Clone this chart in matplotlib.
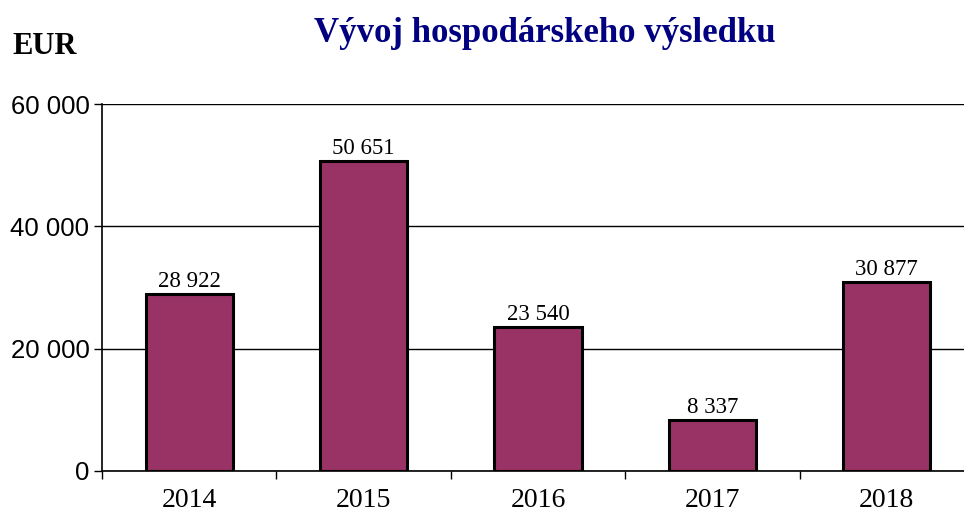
import matplotlib.pyplot as plt
import numpy as np

years = ["2014", "2015", "2016", "2017", "2018"]
values = [28922, 50651, 23540, 8337, 30877]
labels = ["28 922", "50 651", "23 540", "8 337", "30 877"]
yticks = [0, 20000, 40000, 60000]
ytick_labels = ["0", "20 000", "40 000", "60 000"]

fig = plt.figure(figsize=(9.64, 5.14), dpi=100)
# axes run past the right edge like in the original screenshot
ax = fig.add_axes([102 / 964, 43 / 514, 872 / 964, 367 / 514])

x = np.arange(len(years))
ax.bar(x, values, width=0.5, color="#993366", edgecolor="black", linewidth=2.2, zorder=3)

for xi, v, lab in zip(x, values, labels):
    ax.text(xi, v + 1150, lab, ha="center", va="baseline",
            family="Liberation Serif", fontsize=16.5)

ax.set_xlim(-0.5, len(years) - 0.5)
ax.set_ylim(0, 60000)
ax.set_yticks(yticks)
ax.set_yticklabels(ytick_labels, family="Liberation Sans", fontsize=18.5)
ax.set_xticks(x)
ax.set_xticklabels(years, family="Liberation Serif", fontsize=20)
ax.set_xticks(np.arange(-0.5, len(years)), minor=True)
ax.tick_params(axis="x", which="major", length=0, pad=12)
ax.tick_params(axis="x", which="minor", length=6, width=1, direction="out")
ax.tick_params(axis="y", length=6, width=1, direction="out", pad=3)

ax.grid(axis="y", color="black", linewidth=1, zorder=0)
for side in ["top", "right"]:
    ax.spines[side].set_visible(False)
ax.spines["left"].set_linewidth(1.2)
ax.spines["bottom"].set_linewidth(1.2)

fig.text(0.565, 0.935, "Vývoj hospodárskeho výsledku", ha="center", va="center",
         family="Liberation Serif", fontweight="bold", fontsize=25, color="#000080")
fig.text(12 / 964, 0.91, "EUR", ha="left", va="center",
         family="Liberation Serif", fontweight="bold", fontsize=22)

fig.savefig("out.png", dpi=100)
